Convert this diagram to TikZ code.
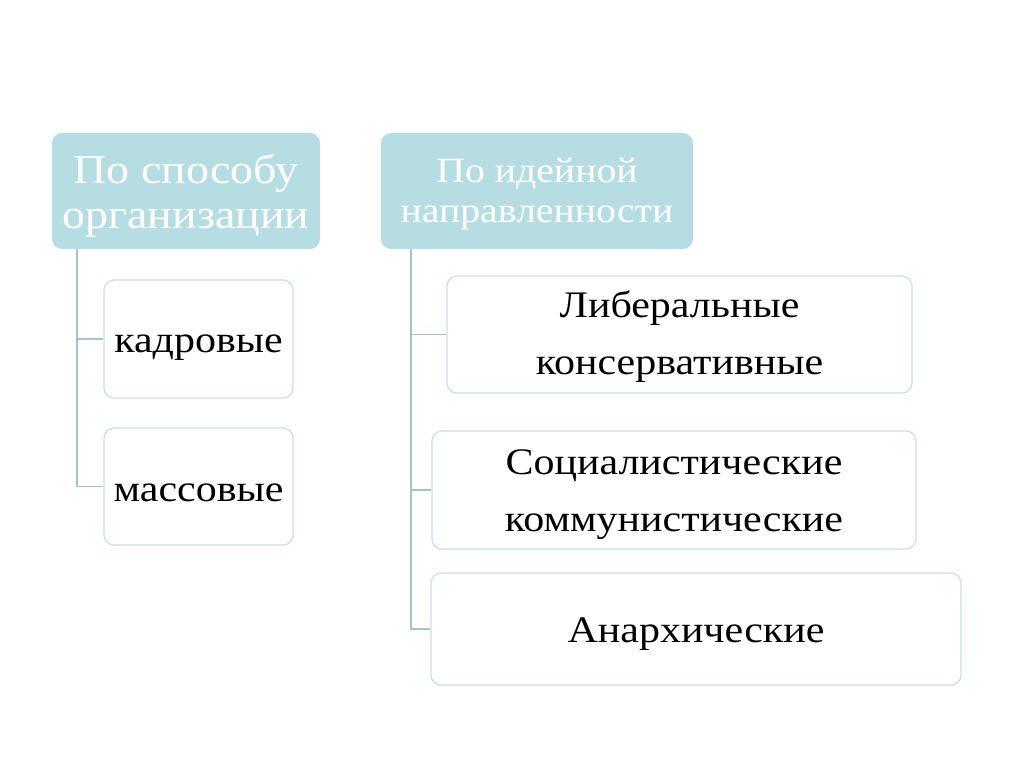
\documentclass[tikz,border=0pt]{standalone}
\usepackage{fontspec}
\setmainfont[FakeStretch=1.12]{Liberation Serif}
\definecolor{hdrfill}{HTML}{B6DDE1}
\definecolor{boxline}{HTML}{C4E2E5}
\definecolor{conn}{HTML}{A3C3C7}
\tikzset{
  hdr/.style={draw=none, fill=hdrfill, rounded corners=10pt, inner sep=0pt},
  hdrtext/.style={text=white, align=center, inner sep=0pt},
  item/.style={draw=boxline, line width=1.2pt, fill=white, rounded corners=10pt, inner sep=0pt},
  itemtext/.style={text=black, align=center, inner sep=0pt, font=\fontsize{37.5}{57}\selectfont},
  link/.style={draw=conn, line width=1.3pt}
}
\begin{document}
\begin{tikzpicture}[x=1pt,y=-1pt]
\useasboundingbox (0,0) rectangle (1024,767);
\fill[white] (0,0) rectangle (1024,767);
% headers
\node[hdr, minimum width=268pt, minimum height=116pt] (h1) at (186,191) {};
\node[hdrtext, font=\fontsize{41}{45}\selectfont] (h1t) at (186,196) {По способу\\организации};
\node[hdr, minimum width=312pt, minimum height=116pt] (h2) at (537,191) {};
\node[hdrtext, font=\fontsize{35.5}{40}\selectfont] (h2t) at (537,194) {По идейной\\направленности};
% left items
\node[item, minimum width=189pt, minimum height=118pt] (k) at (198.5,339) {};
\node[itemtext] (kt) at (198.5,348) {кадровые};
\node[item, minimum width=189pt, minimum height=117pt] (m) at (198.5,486.5) {};
\node[itemtext] (mt) at (198.5,492.5) {массовые};
% right items
\node[item, minimum width=465pt, minimum height=117pt] (l) at (679.5,334.5) {};
\node[itemtext] (lt1) at (679.5,336.5) {Либеральные\\консервативные};
\node[item, minimum width=484pt, minimum height=118pt] (s) at (674,490) {};
\node[itemtext] (st) at (674,495) {Социалистические\\коммунистические};
\node[item, minimum width=530pt, minimum height=112pt] (a) at (696,629) {};
\node[itemtext] (at1) at (696,634) {Анархические};
% connectors
\coordinate (lt) at (77,249);
\coordinate (lb) at (77,486.5);
\draw[link] (lt) -- (lb) -- (m.west);
\draw[link] (77,339) -- (k.west);
\coordinate (rt) at (411,249);
\coordinate (rb) at (411,629);
\draw[link] (rt) -- (rb) -- (a.west);
\draw[link] (411,334.5) -- (l.west);
\draw[link] (411,490) -- (s.west);
\end{tikzpicture}
\end{document}
